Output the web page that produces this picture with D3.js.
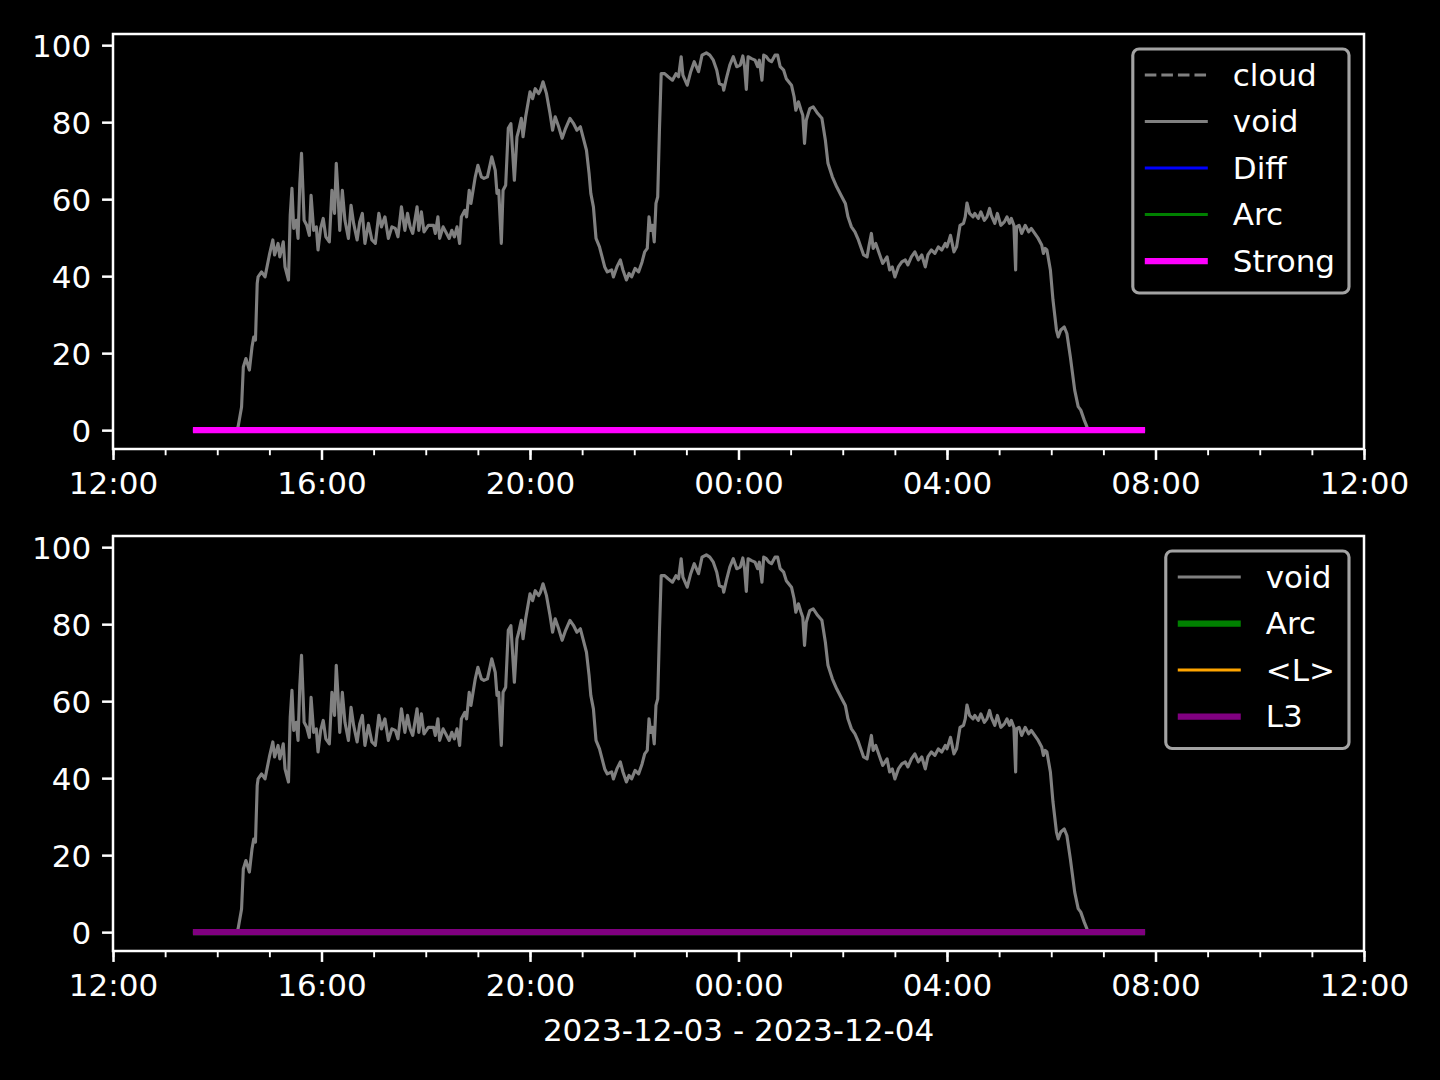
<!DOCTYPE html>
<html><head><meta charset="utf-8">
<script src="https://cdn.jsdelivr.net/npm/d3@7"></script>
<style>html,body{margin:0;padding:0;background:#000;} svg text{font-family:"DejaVu Sans",sans-serif;}</style>
</head><body><svg id="c" width="1440" height="1080"></svg>
<script>
// ---------------- DATA ----------------
const axisStart = "2023-12-03 12:00";
const axisEnd = "2023-12-04 12:00";
const xLabel = "2023-12-03 - 2023-12-04";
const yTicks = [0, 20, 40, 60, 80, 100];
const yDomain = [-4.9, 102.9];
// minutes after 2023-12-03 12:00
const voidMinutes = [92,143,144,148,150,153,157,160,162,164,166,167,171,175,180,184,186,190,192,196,198,202,204,206,208,211,213,215,217,220,223,226,228,231,234,236,239,242,245,249,252,255,257,259,261,264,267,271,274,277,281,284,287,290,294,298,302,306,309,313,317,321,325,328,332,336,339,342,345,350,352,355,358,363,369,371,374,376,380,384,387,390,393,396,399,401,405,407,410,412,417,420,424,427,431,436,440,442,444,447,449,452,455,458,462,465,467,470,472,475,480,483,486,490,492,495,499,503,506,509,513,517,521,526,530,534,538,541,545,548,550,553,556,560,563,566,569,574,576,580,584,587,591,594,597,601,605,609,612,615,617,619,621,623,625,627,629,631,635,639,644,648,651,654,656,661,665,669,674,678,683,687,691,695,698,702,703,706,710,714,718,722,725,727,729,731,735,739,742,744,747,749,752,755,758,762,765,768,772,775,781,784,786,789,792,794,796,798,802,806,811,816,820,823,828,833,838,843,846,850,854,858,862,864,868,870,873,875,878,882,886,891,894,897,900,904,908,912,915,919,923,927,931,935,938,942,946,950,954,958,960,964,968,971,975,979,981,983,986,990,992,996,999,1003,1006,1009,1011,1015,1018,1022,1026,1029,1032,1034,1037,1039,1040,1043,1046,1050,1054,1057,1061,1065,1069,1071,1073,1075,1079,1082,1086,1088,1091,1095,1098,1102,1107,1111,1114,1118,1121,1123,1188];
const voidValues = [0,0,0.9,6,16.4,18.6,15.6,21.6,24.2,23.4,38.1,39.8,41.1,39.8,45.5,49.4,45.5,48.5,45,48.9,42.4,39,55.8,62.8,52.4,54.5,49.8,64,71.9,54.5,53.2,50.6,61,51.9,52.8,46.8,52.4,55,50.2,48.9,62.3,56.3,69.3,61.5,51.9,62.3,54.5,49.8,58.4,53.7,49.4,54.1,56.3,48.5,53.7,49.4,48.5,56.3,52.8,55.4,49.8,52.8,52.4,50.2,58,51.9,56.3,52.8,51.1,58,51.9,56.7,51.5,53.2,53.2,51.1,55.4,49.8,52.8,51.1,49.8,51.9,50.2,52.8,48.5,55.4,57.1,55.4,62.3,58.9,65.8,68.8,65.8,65.4,65.8,71,67.5,61.5,62.3,48.5,62.3,63.6,78.4,79.6,64.9,76.2,77.9,81,76.2,81.4,87.9,86.1,88.7,87.4,88.3,90.5,87.4,82.3,77.9,81.4,78.8,75.8,78.4,81,79.7,77.9,78.8,76.2,72.7,66.7,61.5,58,49.8,47.6,45,42.4,41.1,41.6,39.8,42.4,44.2,41.6,39,40.7,39.8,42,41.1,43.7,46.3,47.2,55.4,51.9,53.2,48.9,58.9,60.6,77.9,92.6,92.6,91.8,90.9,92.6,91.8,97,92.2,89.6,93.1,95.7,93.1,97.4,98,97.4,96.1,93.5,90,89.6,88.3,91.3,94.8,97,94.4,94.8,97.2,94.4,88.5,97,96.5,96.1,94.4,96.1,90.9,97.4,97,96.1,95.7,97.4,97.4,94.4,93.5,91.3,89.6,86.6,83.1,85.3,83.1,81.8,74.5,80.5,83.5,84,82.3,81,75.3,69.3,65.8,63.2,61,58.9,55.4,52.8,51.5,49.4,46.8,45.5,45,47.6,51.1,47.2,48.5,45.9,43.3,45,41.6,42.4,39.8,42.4,43.7,44.2,42.9,45,46.3,44.2,45.5,42.4,45.5,46.8,45.9,47.6,46.8,48.5,47.6,50.6,46.3,47.6,53.2,53.7,55.4,59,56.3,55.4,56.3,55,56.7,54.5,55.4,57.6,55.8,53.7,56.3,53.2,54.1,55.4,53.7,55,53.2,41.6,52.8,53.2,51.1,53.2,51.5,52.4,51.1,49.8,48.1,45.9,47.2,46.8,41.6,33.8,26,24.2,26,26.8,25.1,19,10.4,6.1,5.2,2.6,0.9,0,0];
const flatMinutes = [92, 1188];
const diffValues = [0, 0];
const arcValues = [0, 0];
const strongValues = [0, 0];
const l3Values = [0, 0];
const cloudMinutes = [];
const cloudValues = [];
const lMeanMinutes = [];
const lMeanValues = [];

// ---------------- CHART ----------------
const PT = 3.125;
const FS = 31;
const svg = d3.select("#c");
svg.append("rect").attr("width",1440).attr("height",1080).attr("fill","#000");
const parse = d3.timeParse("%Y-%m-%d %H:%M");
const t0 = parse(axisStart), t1 = parse(axisEnd);
const toDate = m => new Date(t0.getTime() + m*60000);
const mk = (mins, vals) => mins.map((m,i)=>({t:toDate(m), v:vals[i]}));

const panels = [
  {top:34, bottom:449,
   series:[
     {name:"cloud", data:mk(cloudMinutes,cloudValues), color:"#808080", lw:1, dash:true},
     {name:"void", data:mk(voidMinutes,voidValues), color:"#808080", lw:1},
     {name:"Diff", data:mk(flatMinutes,diffValues), color:"#0000ff", lw:1},
     {name:"Arc", data:mk(flatMinutes,arcValues), color:"#008000", lw:1},
     {name:"Strong", data:mk(flatMinutes,strongValues), color:"#ff00ff", lw:2}
   ]},
  {top:536, bottom:951, xlabel:true,
   series:[
     {name:"void", data:mk(voidMinutes,voidValues), color:"#808080", lw:1},
     {name:"Arc", data:mk(flatMinutes,arcValues), color:"#008000", lw:2},
     {name:"<L>", data:mk(lMeanMinutes,lMeanValues), color:"#ffa500", lw:1},
     {name:"L3", data:mk(flatMinutes,l3Values), color:"#800080", lw:2}
   ]}
];
const left = 113, right = 1364;
const x = d3.scaleTime().domain([t0,t1]).range([left,right]);

panels.forEach(p => {
  const y = d3.scaleLinear().domain(yDomain).range([p.bottom,p.top]);
  const g = svg.append("g");
  const line = d3.line().x(d=>x(d.t)).y(d=>y(d.v));
  p.series.forEach(s => {
    if (!s.data.length) return;
    g.append("path").datum(s.data).attr("d",line).attr("fill","none")
      .attr("stroke",s.color).attr("stroke-width",s.lw*PT)
      .attr("stroke-linejoin","round").attr("stroke-linecap","butt")
      .attr("stroke-dasharray", s.dash ? `${3.7*PT} ${1.6*PT}` : null);
  });
  g.append("rect").attr("x",left).attr("y",p.top).attr("width",right-left).attr("height",p.bottom-p.top)
    .attr("fill","none").attr("stroke","#fff").attr("stroke-width",0.8*PT);
  const xMinor = d3.axisBottom(x).ticks(d3.timeHour.every(1)).tickSize(2*PT).tickFormat("");
  const gm = svg.append("g").attr("transform",`translate(0,${p.bottom})`).call(xMinor);
  gm.select(".domain").remove();
  gm.selectAll("line").attr("stroke","#fff").attr("stroke-width",0.6*PT);
  const xMajor = d3.axisBottom(x).ticks(d3.timeHour.every(4)).tickSize(3.5*PT).tickPadding(3.5*PT)
    .tickFormat(d3.timeFormat("%H:%M"));
  const gx = svg.append("g").attr("transform",`translate(0,${p.bottom})`).call(xMajor);
  gx.select(".domain").remove();
  gx.selectAll("line").attr("stroke","#fff").attr("stroke-width",0.8*PT);
  gx.selectAll("text").attr("fill","#fff").attr("font-size",FS).attr("font-family","DejaVu Sans").attr("dy","0.76em");
  const yAx = d3.axisLeft(y).tickValues(yTicks).tickSize(3.5*PT).tickPadding(3.5*PT);
  const gy = svg.append("g").attr("transform",`translate(${left},0)`).call(yAx);
  gy.select(".domain").remove();
  gy.selectAll("line").attr("stroke","#fff").attr("stroke-width",0.8*PT);
  gy.selectAll("text").attr("fill","#fff").attr("font-size",FS).attr("font-family","DejaVu Sans").attr("dy","0.37em");

  const n = p.series.length;
  const lg = svg.append("g");
  const tmp = lg.append("g");
  const texts = p.series.map(s => tmp.append("text").attr("font-size",FS).attr("font-family","DejaVu Sans").text(s.name));
  const maxW = d3.max(texts, t => t.node().getComputedTextLength());
  tmp.remove();
  const padL = 12, handle = 63, gap = 25, padR = 14;
  const boxW = padL + handle + gap + maxW + padR;
  const boxH = 58 + (n-1)*46.5;
  const bx = right - 15 - boxW, by = p.top + 15;
  lg.append("rect").attr("x",bx).attr("y",by).attr("width",boxW).attr("height",boxH)
    .attr("rx",6.25).attr("ry",6.25).attr("fill","rgba(0,0,0,0.8)")
    .attr("stroke","#a3a3a3").attr("stroke-width",1*PT);
  p.series.forEach((s,i) => {
    const cy = by + 26 + i*46.5;
    lg.append("line").attr("x1",bx+padL).attr("x2",bx+padL+handle).attr("y1",cy).attr("y2",cy)
      .attr("stroke",s.color).attr("stroke-width",s.lw*PT)
      .attr("stroke-dasharray", s.dash ? `${3.7*PT} ${1.6*PT}` : null);
    lg.append("text").attr("x",bx+padL+handle+gap).attr("y",cy+10.5)
      .attr("fill","#fff").attr("font-size",FS).attr("font-family","DejaVu Sans").text(s.name);
  });

  if (p.xlabel) {
    svg.append("text").attr("x",(left+right)/2).attr("y",1041).attr("text-anchor","middle")
      .attr("fill","#fff").attr("font-size",FS).attr("font-family","DejaVu Sans").text(xLabel);
  }
});
</script></body></html>
